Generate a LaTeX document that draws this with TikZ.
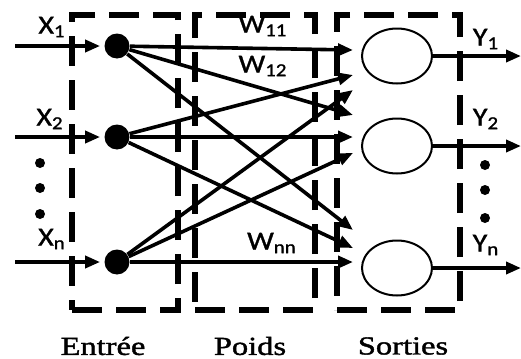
\documentclass[tikz,border=0pt]{standalone}
\usepackage{fontspec}
\usepackage{tikz}
\usetikzlibrary{arrows.meta,positioning,shapes.geometric}
\newfontfamily\etiq[FakeStretch=1.15,FakeBold=1.2]{Carlito}
\newfontfamily\legende[FakeStretch=1.25,FakeBold=1.5]{Liberation Serif}
\tikzset{
  cadre/.style={draw, line width=2.6pt, dash pattern=on 15pt off 7pt, inner sep=0pt, minimum height=147.5pt},
  neurone/.style={circle, fill=black, minimum size=12.5pt, inner sep=0pt},
  sortie/.style={ellipse, draw, line width=1pt, minimum width=35pt, minimum height=27.5pt, inner sep=0pt},
  lien/.style={-{Triangle[length=7.5pt,width=6pt]}, line width=1.8pt},
  lbl/.style={font=\etiq\fontsize{13}{15}\selectfont, inner sep=0pt},
  titre/.style={font=\legende\fontsize{13}{15}\selectfont, inner sep=0pt},
  point/.style={circle, fill=black, minimum size=5pt, inner sep=0pt},
}

\begin{document}
\begin{tikzpicture}[x=0.5pt,y=-0.5pt]
  \useasboundingbox (0,0) rectangle (521,359);
  % cadres
  \node[cadre, minimum width=53pt] (bentree) at (125,162.5) {};
  \node[cadre, minimum width=60pt] (bpoids) at (255,162.5) {};
  \node[cadre, minimum width=61.5pt] (bsorties) at (398.5,162.5) {};
  % entrees et sorties
  \foreach \i/\ye/\ys in {1/46/56, 2/137/146, n/262/268} {
    \node[neurone] (x\i) at (117,\ye) {};
    \node[sortie] (y\i) at (397,\ys) {};
    \coordinate (e\i) at (15,\ye);
    \coordinate (o\i) at (521,\ys);
    \draw[lien, shorten >=2pt] (e\i) -- (x\i);
    \draw[lien] (y\i) -- (o\i);
  }
  % poids
  \foreach \i/\j/\yt in {1/1/50, 2/1/75, n/1/90, 1/2/115, 2/2/137, n/2/153, 1/n/230, 2/n/248, n/n/262} {
    \coordinate (t\i\j) at (353,\yt);
    \draw[lien] (x\i) -- (t\i\j);
  }
  % points de suspension
  \foreach \k/\yg/\yd in {1/163/165, 2/188/190, 3/214/218} {
    \node[point] (pg\k) at (40,\yg) {};
    \node[point] (pd\k) at (485,\yd) {};
  }
  % etiquettes
  \node[lbl] (lx1) at (52,27) {X\textsubscript{1}};
  \node[lbl] (lx2) at (50,119) {X\textsubscript{2}};
  \node[lbl] (lxn) at (52,239) {X\textsubscript{n}};
  \node[lbl] (ly1) at (486,39) {Y\textsubscript{1}};
  \node[lbl] (ly2) at (486,119) {Y\textsubscript{2}};
  \node[lbl] (lyn) at (486,245) {Y\textsubscript{n}};
  \node[lbl] (lw11) at (263,26) {W\textsubscript{11}};
  \node[lbl] (lw12) at (263,66) {W\textsubscript{12}};
  \node[lbl] (lwnn) at (272,243) {W\textsubscript{nn}};
  \node[titre] (tentree) at (103,346) {Entrée};
  \node[titre] (tpoids) at (250,346) {Poids};
  \node[titre] (tsorties) at (403,346) {Sorties};
\end{tikzpicture}
\end{document}
